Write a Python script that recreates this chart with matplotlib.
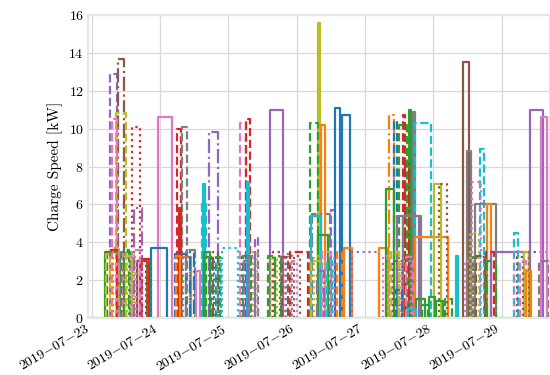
import datetime as dt
import numpy as np
import matplotlib
matplotlib.use("Agg")
import matplotlib.pyplot as plt
import matplotlib.dates as mdates
from matplotlib.ticker import FuncFormatter

plt.rcParams['font.family'] = 'serif'
plt.rcParams['font.serif'] = ['cmr10']
plt.rcParams['mathtext.fontset'] = 'cm'
plt.rcParams['axes.formatter.use_mathtext'] = True

# charging sessions: start / end in hours after 2019-07-23 00:00, power in kW
start_h = [6.3, 9.3, 8.5, 7.0, 14.3, 4.8, 5.5, 10.5, 12.5, 15.0, 16.0, 17.0, 14.0, 23.3, 21.0, 19.5, 7.5,
           30.0, 31.7, 30.5, 29.3, 31.0, 33.0, 36.6, 39.1, 38.8, 41.2, 39.5, 42.5, 41.5, 43.5, 45.7,
           52.0, 54.1, 54.5, 52.7, 53.0, 57.3, 56.5,
           62.5, 62.0, 63.6, 66.5, 68.2, 69.6, 71.0,
           79.4, 76.6, 80.5, 77.3, 76.9, 79.5, 84.0, 85.3, 88.1, 88.8, 91.3, 77.0, 82.0,
           101.1, 104.6, 106.3, 109.5, 111.3, 112.7, 113.4, 108.1, 110.2, 103.5, 107.4, 109.5, 113.4,
           120.4, 122.1, 128.1, 104.0, 108.5,
           130.5, 131.9, 136.5, 133.7, 134.7, 138.9, 140.3, 138.6, 134.0, 148.4, 148.4, 151.9,
           153.6, 154.0, 157.9,
           # smaller, overlapping sessions
           5.0, 9.5, 11.5, 12.0, 13.5, 17.5,
           29.5, 32.0, 34.5, 40.0, 44.0, 53.5, 55.0,
           63.0, 64.5, 67.0, 70.0,
           78.0, 81.0, 82.5, 79.0, 86.0,
           102.5, 105.0, 106.0, 110.5, 114.0, 116.0, 118.5, 121.0, 124.0, 107.0, 111.0,
           131.0, 133.0, 135.0, 139.0, 149.5, 150.5, 152.5, 157.0]
end_h = [9.0, 11.2, 12.0, 8.8, 17.0, 10.0, 9.0, 13.5, 15.0, 17.5, 19.5, 20.0, 17.0, 28.3, 26.5, 21.0, 9.5,
         31.4, 33.5, 31.5, 33.0, 35.0, 36.3, 38.0, 39.8, 40.0, 44.3, 41.5, 44.5, 43.0, 45.0, 51.3,
         54.1, 55.5, 55.3, 56.2, 56.0, 58.3, 58.0,
         67.1, 64.3, 66.1, 68.0, 70.3, 76.0, 73.0,
         80.1, 79.4, 81.8, 83.6, 80.5, 83.0, 85.3, 87.1, 90.6, 91.5, 101.1, 82.0, 85.0,
         104.0, 106.3, 107.4, 110.2, 112.0, 113.4, 119.3, 110.9, 111.6, 106.3, 115.1, 115.8, 125.0,
         122.8, 124.9, 128.8, 108.0, 112.0,
         132.6, 133.3, 137.9, 136.8, 142.1, 140.3, 153.6, 141.4, 138.0, 149.8, 152.0, 153.6,
         162.4, 158.6, 160.0,
         6.5, 11.0, 13.0, 14.0, 15.5, 19.0,
         31.0, 34.5, 36.0, 42.0, 45.5, 55.0, 57.5,
         65.0, 66.5, 69.0, 72.0,
         81.0, 84.0, 84.5, 81.5, 88.0,
         104.5, 108.0, 109.0, 113.0, 117.0, 118.0, 120.5, 123.5, 126.5, 109.0, 114.0,
         134.0, 136.0, 138.0, 142.0, 151.5, 152.5, 154.5, 160.5]
power_kw = [12.9, 13.7, 10.8, 10.5, 10.1, 3.5, 3.6, 3.5, 3.4, 5.8, 3.0, 3.1, 3.6, 10.6, 3.7, 3.0, 3.7,
            10.0, 10.1, 5.8, 3.4, 3.2, 3.6, 2.5, 7.1, 6.0, 9.8, 3.5, 3.5, 3.1, 3.2, 3.7,
            10.3, 10.5, 7.2, 3.2, 3.3, 4.2, 3.5,
            11.0, 3.3, 3.5, 3.4, 3.4, 3.5, 3.3,
            15.6, 10.3, 10.2, 5.5, 5.4, 4.4, 5.7, 11.1, 10.7, 3.7, 3.5, 3.0, 3.2,
            3.7, 10.7, 10.4, 10.7, 11.0, 10.9, 10.3, 10.2, 8.2, 6.8, 5.4, 5.4, 4.3,
            7.1, 7.1, 3.3, 3.4, 3.0,
            13.5, 8.8, 8.9, 7.2, 6.0, 6.0, 3.5, 3.5, 3.2, 4.5, 3.5, 3.5,
            3.5, 11.0, 10.6,
            3.4, 3.5, 3.6, 3.3, 3.2, 3.0,
            3.3, 3.2, 3.5, 3.2, 3.0, 3.0, 3.3,
            3.1, 3.3, 3.2, 3.0,
            3.3, 3.5, 3.0, 2.5, 3.5,
            3.3, 3.5, 3.0, 3.2, 1.0, 0.7, 1.1, 0.9, 1.0, 1.5, 0.5,
            3.0, 4.5, 3.3, 3.0, 3.2, 3.0, 2.5, 3.0]

C = {'blue': '#1f77b4', 'orange': '#ff7f0e', 'green': '#2ca02c', 'red': '#d62728',
     'purple': '#9467bd', 'brown': '#8c564b', 'pink': '#e377c2', 'grey': '#7f7f7f',
     'olive': '#bcbd22', 'cyan': '#17becf'}
colors = ['purple', 'brown', 'olive', 'pink', 'red', 'green', 'red', 'green', 'olive', 'purple', 'brown',
          'red', 'pink', 'pink', 'blue', 'green', 'orange',
          'red', 'grey', 'red', 'blue', 'orange', 'grey', 'pink', 'cyan', 'cyan', 'purple', 'green',
          'brown', 'blue', 'green', 'cyan',
          'pink', 'red', 'cyan', 'blue', 'green', 'purple', 'olive',
          'purple', 'green', 'red', 'pink', 'grey', 'red', 'brown',
          'olive', 'green', 'orange', 'grey', 'cyan', 'green', 'purple', 'blue', 'blue', 'orange',
          'purple', 'olive', 'pink',
          'orange', 'orange', 'blue', 'red', 'green', 'grey', 'cyan', 'green', 'red', 'green',
          'purple', 'grey', 'orange',
          'olive', 'brown', 'cyan', 'olive', 'pink',
          'brown', 'grey', 'cyan', 'pink', 'grey', 'orange', 'purple', 'red', 'green', 'cyan',
          'pink', 'olive',
          'brown', 'purple', 'pink',
          'olive', 'pink', 'green', 'olive', 'pink', 'red',
          'orange', 'grey', 'blue', 'green', 'cyan', 'purple', 'purple',
          'olive', 'green', 'brown', 'pink',
          'olive', 'pink', 'cyan', 'purple', 'orange',
          'pink', 'olive', 'brown', 'pink', 'green', 'green', 'green', 'green', 'green', 'blue', 'cyan',
          'pink', 'olive', 'brown', 'green', 'brown', 'pink', 'orange', 'grey']
styles = ['--', '-.', '--', '--', ':', '-', '--', '--', ':', '-.', '-', '-', '--', '-', '-', ':', ':',
          '--', '--', '-', '--', '-', '-.', '-', '-', '--', '-.', '-', '-.', ':', '--', ':',
          '--', '--', '-', ':', '--', '--', ':',
          '-', '--', ':', ':', ':', '--', ':',
          '-', '--', '-', '-.', '-', '-', '--', '-', '-', '-', ':', '--', ':',
          '-', '-.', '--', '--', '-', '-', '--', '--', '-.', '-', '-', '-', '-',
          '-', ':', '-', ':', ':',
          '-', '-', '--', ':', '-', '-', '-', '--', '--', '--', ':', '-',
          ':', '-', '-',
          '--', '--', '-.', '--', ':', ':',
          '--', ':', '-.', '--', ':', '-.', '--',
          ':', '-.', '--', ':',
          ':', '--', '--', '-.', '--',
          ':', '--', ':', '--', '-', '--', '-', '-', '--', '--', '-',
          ':', ':', '--', '-.', ':', '--', '-', '--']

t0 = mdates.date2num(dt.datetime(2019, 7, 23))
x_lo = t0 - 1.3 / 24
x_hi = t0 + 161 / 24

fig = plt.figure(figsize=(5.5, 3.75), dpi=100)
ax = fig.add_axes([0.16, 0.152, 0.84, 0.808])

for s, e, p, c, ls in zip(start_h, end_h, power_kw, colors, styles):
    xs = t0 + np.array([s, s, e, e]) / 24
    ys = [0, p, p, 0]
    ax.plot(xs, ys, color=C[c], linestyle=ls, linewidth=1.6)

# baseline at zero
ax.plot([x_lo, x_hi], [0, 0], color=C['green'], linewidth=1.6)

ax.set_xlim(x_lo, x_hi)
ax.set_ylim(0, 16)
ax.set_yticks(range(0, 17, 2))
ax.xaxis.set_major_locator(mdates.DayLocator())
ax.xaxis.set_major_formatter(FuncFormatter(
    lambda v, pos: r'$\mathdefault{%s}$' % mdates.num2date(v).strftime('%Y-%m-%d').replace('-', '{-}')))
plt.setp(ax.get_xticklabels(), rotation=30, ha='right')
ax.tick_params(labelsize=10, length=0, pad=3)
ax.set_ylabel('Charge Speed [kW]', fontsize=11)
ax.grid(True, color='#d9d9d9', linewidth=0.9)
ax.set_axisbelow(True)
for sp in ax.spines.values():
    sp.set_color('#e6e6e6')
    sp.set_linewidth(1.5)

fig.savefig('out.png', dpi=100)
